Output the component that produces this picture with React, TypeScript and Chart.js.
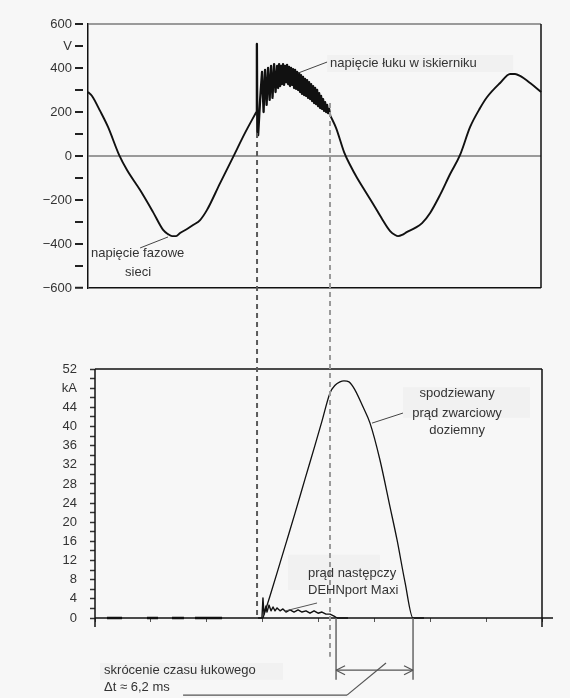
import React, { useEffect, useRef } from "react";
import { Chart, registerables } from "chart.js";

Chart.register(...registerables);

const FONT = "'Liberation Sans', Arial, Helvetica, sans-serif";
const TEXT = "#333333";
const BG = "#f7f7f7";
const BOX = "#f1f1f1";

// ---------- top panel: phase voltage (V) against time (ms) ----------
const preArcTime = [
  -0.63, -0.27, 0.45, 1.16, 2.15, 2.86, 4.03, 5.19, 6.09, 6.53, 6.89, 7.25, 7.61, 8.23, 8.77, 9.4, 10.02, 11.19, 12.35, 13.42, 14.43,
];
const preArcValue = [
  291, 273, 205, 132, 5, -64, -155, -255, -336, -355, -364, -364, -350, -332, -314, -291, -245, -123, -5, 105, 200,
];
const arcTime = [
  14.43, 14.48, 14.52,
  14.59, 14.77, 14.94, 15.08, 15.21, 15.35, 15.48, 15.62, 15.75, 15.88, 16.02, 16.15, 16.29, 16.38, 16.47, 16.56, 16.65, 16.73,
  16.82, 16.91, 17.0, 17.09, 17.18, 17.27, 17.36, 17.45, 17.54, 17.63, 17.72, 17.81, 17.9, 17.99, 18.08, 18.17, 18.26, 18.35,
  18.43, 18.52, 18.61, 18.7, 18.79, 18.88, 18.97, 19.06, 19.15, 19.24, 19.33, 19.42, 19.51, 19.6, 19.69, 19.78, 19.87, 19.96,
  20.05, 20.14, 20.22, 20.31, 20.4, 20.49, 20.58, 20.67, 20.76, 20.85, 20.94, 21.03,
];
const arcValue = [
  200, 509, 109,
  95, 255, 382, 200, 391, 232, 400, 255, 409, 264, 418, 291, 409, 309, 418, 318, 409, 327,
  418, 323, 409, 336, 414, 327, 405, 318, 400, 323, 395, 309, 391, 305, 382, 300, 377, 291,
  368, 282, 359, 277, 350, 273, 345, 264, 336, 259, 327, 250, 318, 241, 309, 236, 300, 227,
  286, 218, 273, 214, 259, 205, 245, 200, 232, 195, 214, 186,
];
const postArcTime = [
  21.03, 21.57, 22.28, 22.82, 23.45, 24.16, 24.88, 25.68, 26.4, 26.85, 27.11, 27.47, 27.92, 28.64, 29.26, 29.98, 30.87, 31.77,
  32.66, 33.56, 34.45, 35.08, 36.24, 37.14, 37.58, 38.03, 38.93, 39.91,
];
const postArcValue = [
  186, 127, 18, -41, -100, -159, -218, -286, -341, -359, -364, -359, -345, -327, -305, -259, -177, -82,
  5, 132, 218, 268, 332, 373, 373, 364, 332, 291,
];
const voltageTickValues = [600, 500, 400, 300, 200, 100, 0, -100, -200, -300, -400, -500, -600];
const voltageLabelValues = [600, 500, 400, 200, 0, -200, -400, -600];
const voltageLabelTexts = ["600", "V", "400", "200", "0", "\u2212200", "\u2212400", "\u2212600"];
const topTimeMin = -0.63;
const topTimeMax = 39.9;

// ---------- bottom panel: current (kA) against time (ms) ----------
const prospectiveTime = [
  15.03, 15.66, 16.56, 17.18, 17.9, 18.79, 19.69, 20.31, 21.03, 21.48, 21.92, 22.28, 22.73, 23.27, 23.98, 24.61, 25.5, 26.4,
  27.03, 27.74, 28.46, 29.44,
];
const prospectiveValue = [
  0, 4.6, 11.5, 16.3, 21.9, 29.0, 36.1, 41.1, 47.0, 48.6, 49.3, 49.5, 49.3, 47.6, 44.1, 40.7, 33.0, 23.2, 16.3, 7.5, 0, 0,
];
const followTime = [
  14.59, 14.94, 15.03, 15.12, 15.3, 15.39, 15.57, 15.75, 15.93, 16.11, 16.29, 16.56, 16.82, 17.09, 17.45, 17.81, 18.17, 18.52,
  18.88, 19.24, 19.6, 19.96, 20.31, 20.67, 21.03, 21.39, 21.66, 22.64,
];
const followValue = [
  0, 0, 4.2, 0.8, 2.5, 1.25, 2.7, 1.5, 2.3, 1.5, 2.1, 1.5, 1.9, 1.25, 1.7, 1.25, 1.7, 1.25, 1.5, 1.0, 1.5, 1.0, 1.25, 0.8, 0.8,
  0.4, 0, 0,
];
const zeroTraceStart = [1.07, 4.65, 6.89, 8.95];
const zeroTraceEnd = [2.42, 5.64, 7.96, 11.37];
const currentTickValues = [52, 50, 48, 46, 44, 42, 40, 38, 36, 34, 32, 30, 28, 26, 24, 22, 20, 18, 16, 14, 12, 10, 8, 6, 4, 2, 0];
const currentLabelValues = [52, 48, 44, 40, 36, 32, 28, 24, 20, 16, 12, 8, 4, 0];
const currentLabelTexts = ["52", "kA", "44", "40", "36", "32", "28", "24", "20", "16", "12", "8", "4", "0"];
const timeTickValues = [0, 5, 10, 15, 20, 25, 30, 35, 40];
const timeMin = 0;
const timeMax = 40;

// ---------- markers (ms / V / kA) ----------
const arcStartTime = 14.5;
const arcStartVoltage = 105;
const arcEndTime = 21.03;
const arcEndVoltage = 241;
const arcEndLineBottom = -8.1;
const followEndTime = 21.57;
const prospectiveEndTime = 28.46;
const bracketBottom = -12.9;
const bracketArrow = -10.9;

const pts = (ts: number[], vs: number[]) => ts.map((t, i) => ({ x: t, y: vs[i] }));

function line(ctx: CanvasRenderingContext2D, x1: number, y1: number, x2: number, y2: number, color: string, w: number, dash: number[] = []) {
  ctx.save();
  ctx.strokeStyle = color;
  ctx.lineWidth = w;
  ctx.setLineDash(dash);
  ctx.beginPath();
  ctx.moveTo(x1, y1);
  ctx.lineTo(x2, y2);
  ctx.stroke();
  ctx.restore();
}

function text(ctx: CanvasRenderingContext2D, s: string, x: number, y: number, align: CanvasTextAlign) {
  ctx.save();
  ctx.font = `13px ${FONT}`;
  ctx.fillStyle = TEXT;
  ctx.textAlign = align;
  ctx.textBaseline = "middle";
  ctx.fillText(s, x, y);
  ctx.restore();
}

function box(ctx: CanvasRenderingContext2D, x0: number, y0: number, x1: number, y1: number) {
  ctx.save();
  ctx.fillStyle = BOX;
  ctx.fillRect(Math.min(x0, x1), Math.min(y0, y1), Math.abs(x1 - x0), Math.abs(y1 - y0));
  ctx.restore();
}

export default function App() {
  const topRef = useRef<HTMLCanvasElement>(null);
  const botRef = useRef<HTMLCanvasElement>(null);

  useEffect(() => {
    Chart.defaults.font.family = FONT;
    Chart.defaults.font.size = 13;
    Chart.defaults.color = TEXT;

    const topBoxes = {
      id: "topBoxes",
      beforeDraw(chart: any) {
        const x = chart.scales.x;
        const y = chart.scales.y;
        const ctx = chart.ctx;
        box(ctx, x.getPixelForValue(20.76), y.getPixelForValue(459), x.getPixelForValue(37.41), y.getPixelForValue(382));
      },
    };

    const topOverlay = {
      id: "topOverlay",
      afterDraw(chart: any) {
        const { ctx, chartArea: a } = chart;
        const x = chart.scales.x;
        const y = chart.scales.y;
        line(ctx, a.right, a.top, a.right, a.bottom, "#111", 1.5);
        line(ctx, x.getPixelForValue(18.17), y.getPixelForValue(377), x.getPixelForValue(20.76), y.getPixelForValue(427), "#444", 1);
        text(ctx, "napięcie łuku w iskierniku", x.getPixelForValue(21.03), y.getPixelForValue(423), "left");
        line(ctx, x.getPixelForValue(4.03), y.getPixelForValue(-418), x.getPixelForValue(6.53), y.getPixelForValue(-368), "#444", 1);
        text(ctx, "napięcie fazowe", x.getPixelForValue(-0.36), y.getPixelForValue(-445), "left");
        text(ctx, "sieci", x.getPixelForValue(3.85), y.getPixelForValue(-527), "center");
      },
    };

    const voltageStyle = { borderColor: "#111", pointRadius: 0, clip: false, borderJoinStyle: "round" };

    const topChart = new Chart(topRef.current as HTMLCanvasElement, {
      type: "line",
      data: {
        datasets: [
          { ...voltageStyle, data: pts(preArcTime, preArcValue), borderWidth: 1.9, cubicInterpolationMode: "monotone" },
          { ...voltageStyle, data: pts(arcTime, arcValue), borderWidth: 2.3, tension: 0 },
          { ...voltageStyle, data: pts(postArcTime, postArcValue), borderWidth: 1.9, cubicInterpolationMode: "monotone" },
        ] as any,
      },
      options: {
        responsive: false,
        animation: false,
        events: [],
        layout: { padding: { left: 0, top: 24, right: 29, bottom: 410 } },
        plugins: { legend: { display: false }, tooltip: { enabled: false } },
        scales: {
          x: { type: "linear", display: false, min: topTimeMin, max: topTimeMax },
          y: {
            type: "linear",
            min: -600,
            max: 600,
            afterBuildTicks: (scale: any) => {
              scale.ticks = voltageTickValues.map((v) => ({ value: v }));
            },
            afterFit: (scale: any) => {
              scale.width = 88;
            },
            ticks: {
              autoSkip: false,
              padding: 3,
              color: TEXT,
              font: { family: FONT, size: 13 },
              callback: (value: any) => {
                const k = voltageLabelValues.indexOf(Number(value));
                return k >= 0 ? voltageLabelTexts[k] : "";
              },
            },
            grid: {
              drawOnChartArea: true,
              drawTicks: true,
              tickLength: 13,
              tickColor: "#222",
              tickWidth: 2,
              tickBorderDash: [8, 5],
              color: (c: any) => {
                const v = c.tick ? c.tick.value : null;
                if (v === 600 || v === 0) return "#9a9a9a";
                if (v === -600) return "#111";
                return "rgba(0,0,0,0)";
              },
              lineWidth: (c: any) => {
                const v = c.tick ? c.tick.value : null;
                if (v === 600 || v === 0) return 2;
                if (v === -600) return 1.5;
                return 0;
              },
            } as any,
            border: { display: true, color: "#111", width: 1.5 },
          },
        },
      },
      plugins: [topBoxes, topOverlay],
    } as any);

    const botBoxes = {
      id: "botBoxes",
      beforeDraw(chart: any) {
        const x = chart.scales.x;
        const y = chart.scales.y;
        const ctx = chart.ctx;
        box(ctx, x.getPixelForValue(27.56), y.getPixelForValue(48.2), x.getPixelForValue(38.93), y.getPixelForValue(41.8));
        box(ctx, x.getPixelForValue(17.27), y.getPixelForValue(13.2), x.getPixelForValue(25.5), y.getPixelForValue(5.85));
        box(ctx, x.getPixelForValue(0.45), y.getPixelForValue(-9.4), x.getPixelForValue(16.82), y.getPixelForValue(-12.9));
      },
      beforeDatasetsDraw(chart: any) {
        const { ctx, chartArea: a } = chart;
        const x = chart.scales.x;
        const y = chart.scales.y;
        const y0 = y.getPixelForValue(0);
        line(ctx, a.left, a.top, a.right, a.top, "#111", 1.5);
        line(ctx, a.left, y0, x.getPixelForValue(timeMax) + 11, y0, "#111", 1.5);
        line(ctx, a.left, a.top, a.left, y0 + 9, "#111", 1.5);
        line(ctx, a.right, a.top, a.right, y0 + 9, "#111", 1.5);
      },
    };

    const botOverlay = {
      id: "botOverlay",
      afterDraw(chart: any) {
        const ctx = chart.ctx;
        const x = chart.scales.x;
        const y = chart.scales.y;
        const ty = topChart.scales.y;
        const X = (t: number) => x.getPixelForValue(t);
        const Y = (v: number) => y.getPixelForValue(v);

        line(ctx, X(arcStartTime), ty.getPixelForValue(arcStartVoltage), X(arcStartTime), Y(0), "#5a5a5a", 2, [5, 4]);
        line(ctx, X(arcEndTime), ty.getPixelForValue(arcEndVoltage), X(arcEndTime), Y(arcEndLineBottom), "#9a9a9a", 2, [5, 4]);

        const gy = Y(bracketArrow);
        const xa = X(followEndTime);
        const xb = X(prospectiveEndTime);
        line(ctx, xa, Y(0), xa, Y(bracketBottom), "#666", 1.5);
        line(ctx, xb, Y(0), xb, Y(bracketBottom), "#666", 1.5);
        line(ctx, xa, gy, xb, gy, "#555", 1.2);
        line(ctx, xa, gy, xa + 9, gy - 4.5, "#555", 1.2);
        line(ctx, xa, gy, xa + 9, gy + 4.5, "#555", 1.2);
        line(ctx, xb, gy, xb - 9, gy - 4.5, "#555", 1.2);
        line(ctx, xb, gy, xb - 9, gy + 4.5, "#555", 1.2);
        line(ctx, X(7.88), Y(-16.1), X(22.55), Y(-16.1), "#555", 1.2);
        line(ctx, X(22.55), Y(-16.1), X(26.04), Y(-9.4), "#555", 1.2);

        line(ctx, X(24.79), Y(40.7), X(27.56), Y(42.8), "#444", 1);
        text(ctx, "spodziewany", X(32.4), Y(46.8), "center");
        text(ctx, "prąd zwarciowy", X(32.4), Y(42.8), "center");
        text(ctx, "doziemny", X(32.4), Y(39.1), "center");

        line(ctx, X(17.0), Y(1.46), X(19.87), Y(3.13), "#555", 1);
        text(ctx, "prąd następczy", X(19.06), Y(9.4), "left");
        text(ctx, "DEHNport Maxi", X(19.06), Y(5.85), "left");

        text(ctx, "skrócenie czasu łukowego", X(0.81), Y(-10.9), "left");
        text(ctx, "\u0394t \u2248 6,2 ms", X(0.81), Y(-14.6), "left");
      },
    };

    const zeroTrace: any[] = [];
    zeroTraceStart.forEach((s, i) => {
      zeroTrace.push({ x: s, y: 0 }, { x: zeroTraceEnd[i], y: 0 }, { x: zeroTraceEnd[i], y: null });
    });

    const botChart = new Chart(botRef.current as HTMLCanvasElement, {
      type: "line",
      data: {
        datasets: [
          {
            data: pts(prospectiveTime, prospectiveValue),
            borderColor: "#111",
            borderWidth: 1.3,
            pointRadius: 0,
            cubicInterpolationMode: "monotone",
            clip: false,
          },
          {
            data: pts(followTime, followValue),
            borderColor: "#111",
            borderWidth: 1.4,
            borderJoinStyle: "round",
            pointRadius: 0,
            tension: 0,
            clip: false,
          },
          {
            data: zeroTrace,
            borderColor: "#111",
            borderWidth: 2.5,
            pointRadius: 0,
            spanGaps: false,
            clip: false,
          },
        ] as any,
      },
      options: {
        responsive: false,
        animation: false,
        events: [],
        layout: { padding: { left: 0, top: 369, right: 28, bottom: 70 } },
        plugins: { legend: { display: false }, tooltip: { enabled: false } },
        scales: {
          x: {
            type: "linear",
            min: timeMin,
            max: timeMax,
            afterBuildTicks: (scale: any) => {
              scale.ticks = timeTickValues.map((v) => ({ value: v }));
            },
            afterFit: (scale: any) => {
              scale.height = 10;
            },
            ticks: { display: false },
            grid: { drawOnChartArea: false, drawTicks: true, tickLength: 4, tickColor: "#555", tickWidth: 1 },
            border: { display: false },
          },
          y: {
            type: "linear",
            min: 0,
            max: 52,
            afterBuildTicks: (scale: any) => {
              scale.ticks = currentTickValues.map((v) => ({ value: v }));
            },
            afterFit: (scale: any) => {
              scale.width = 95;
            },
            ticks: {
              autoSkip: false,
              padding: 13,
              color: TEXT,
              font: { family: FONT, size: 13 },
              callback: (value: any) => {
                const k = currentLabelValues.indexOf(Number(value));
                return k >= 0 ? currentLabelTexts[k] : "";
              },
            },
            grid: { drawOnChartArea: false, drawTicks: true, tickLength: 5, tickColor: "#333", tickWidth: 1.5 },
            border: { display: false },
          },
        },
      },
      plugins: [botBoxes, botOverlay],
    } as any);

    return () => {
      botChart.destroy();
      topChart.destroy();
    };
  }, []);

  return (
    <div style={{ position: "absolute", left: 0, top: 0, width: 570, height: 698, background: BG, overflow: "hidden" }}>
      <canvas ref={topRef} width={570} height={698} style={{ position: "absolute", left: 0, top: 0 }} />
      <canvas ref={botRef} width={570} height={698} style={{ position: "absolute", left: 0, top: 0 }} />
    </div>
  );
}
